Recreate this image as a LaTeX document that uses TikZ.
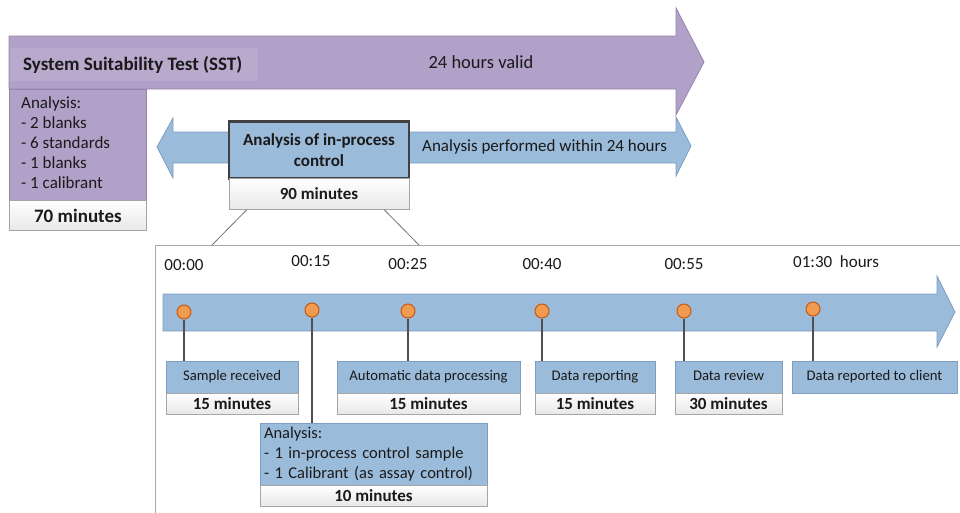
\documentclass[tikz,border=0pt]{standalone}
\usepackage{fontspec}
\setmainfont{Carlito}
\usetikzlibrary{calc}
\definecolor{purp}{HTML}{B1A0C7}
\definecolor{purplab}{HTML}{B8A9CD}
\definecolor{purpline}{HTML}{9585AE}
\definecolor{bluef}{HTML}{9BBBDA}
\definecolor{blueline}{HTML}{7E9EC1}
\definecolor{dotf}{HTML}{F09A52}
\definecolor{dotl}{HTML}{C55A11}
\definecolor{txt}{HTML}{1A1A1A}
\definecolor{wline}{HTML}{A6A6A6}
\definecolor{conn}{HTML}{505050}
\definecolor{framec}{HTML}{A8A8A8}
\tikzset{
  bluebox/.style={draw=blueline, fill=bluef, line width=0.8pt, inner sep=0pt, text=txt,
    font=\fontsize{14.7}{18}\selectfont},
  oneline/.style={text height=10.5pt, text depth=3pt},
  whitebox/.style={draw=wline, top color=white, bottom color=black!9, line width=0.8pt,
    inner sep=0pt, text=txt, font=\bfseries\fontsize{17}{20}\selectfont},
  tlabel/.style={text=txt, inner sep=0pt, font=\fontsize{17}{20}\selectfont},
  tdot/.style={circle, draw=dotl, fill=dotf, line width=1pt, minimum size=14pt, inner sep=0pt},
  stem/.style={draw=conn, line width=1.6pt},
  zoomline/.style={draw=black!55, line width=0.8pt}
}
\begin{document}
\begin{tikzpicture}[x=1pt,y=-1pt]
\useasboundingbox (0,0) rectangle (960,512);
\clip (0,0) rectangle (960,512);

% purple validity arrow
\fill[purp, draw=purpline, line width=0.8pt]
  (9,36) -- (676,36) -- (676,8) -- (704,62) -- (676,115) -- (676,89) -- (9,89) -- cycle;
\node[fill=purplab, minimum width=248pt, minimum height=33pt, inner sep=0pt, anchor=north west]
  (sstbg) at (10,48) {};
\node[text=txt, anchor=west, inner sep=0pt, font=\bfseries\fontsize{19}{22}\selectfont]
  (sst) at (23,65) {System Suitability Test (SST)};
\node[text=txt, inner sep=0pt, font=\fontsize{18.5}{22}\selectfont] (valid) at (481,62) {24 hours valid};

% SST column
\node[draw=purpline, fill=purp, line width=0.8pt, minimum width=137pt, minimum height=111pt,
  inner sep=0pt, anchor=north west] (sstcol) at (9,89) {};
\node[text=txt, anchor=north west, inner sep=0pt, align=left, font=\fontsize{17}{20}\selectfont]
  (sstlist) at (21,96) {Analysis:\\- 2 blanks\\- 6 standards\\- 1 blanks\\- 1 calibrant};
\node[whitebox, minimum width=137pt, minimum height=30pt, anchor=north west,
  font=\bfseries\fontsize{19}{22}\selectfont] (m70) at (9,200) {70 minutes};

% blue double arrow
\fill[bluef, draw=blueline, line width=0.8pt]
  (157,147) -- (173,118) -- (173,132) -- (676,132) -- (676,117) -- (691,146)
  -- (676,176) -- (676,163) -- (173,163) -- (173,178) -- cycle;
\node[text=txt, inner sep=0pt, anchor=west, font=\fontsize{17}{20}\selectfont]
  (within) at (422,147) {Analysis performed within 24 hours};

% in-process control box
\node[draw=black!75, fill=bluef, line width=2.6pt, minimum width=180pt, minimum height=57pt,
  inner sep=0pt, align=center, text=txt, font=\bfseries\fontsize{17}{21}\selectfont]
  (ipc) at (319,150) {Analysis of in-process\\control};
\node[whitebox, minimum width=180pt, minimum height=31pt] (m90) at (319,194) {90 minutes};

% zoom frame
\draw[framec, line width=0.8pt] (155,245) rectangle (980,530);
\coordinate (fl) at (212,245);
\coordinate (fr) at (419,245);
\draw[zoomline] ($(m90.south west)+(18,0)$) -- (fl);
\draw[zoomline] ($(m90.south east)+(-25,0)$) -- (fr);

% time labels
\node[tlabel] (t0) at (184,265) {00:00};
\node[tlabel] (t1) at (311,261) {00:15};
\node[tlabel] (t2) at (408,264) {00:25};
\node[tlabel] (t3) at (542,264) {00:40};
\node[tlabel] (t4) at (684,264) {00:55};
\node[tlabel, anchor=west] (t5) at (793,262) {01:30\ \ hours};

% timeline arrow
\fill[bluef, draw=blueline, line width=0.8pt]
  (163,294) -- (937,294) -- (937,276) -- (955,312) -- (937,347) -- (937,331) -- (163,331) -- cycle;

% dots
\node[tdot] (d0) at (184,312) {};
\node[tdot] (d1) at (312,310) {};
\node[tdot] (d2) at (408,311) {};
\node[tdot] (d3) at (542,311) {};
\node[tdot] (d4) at (684,311) {};
\node[tdot] (d5) at (813,309) {};

% step boxes
\node[bluebox, oneline, minimum width=132pt, minimum height=32pt] (b0) at (232,377) {Sample received};
\node[whitebox, minimum width=132pt, minimum height=21pt] (w0) at (232,403.5) {15 minutes};
\node[bluebox, oneline, minimum width=183pt, minimum height=32pt] (b2) at (428.5,377) {Automatic data processing};
\node[whitebox, minimum width=183pt, minimum height=21pt] (w2) at (428.5,403.5) {15 minutes};
\node[bluebox, oneline, minimum width=120pt, minimum height=32pt] (b3) at (595,377) {Data reporting};
\node[whitebox, minimum width=120pt, minimum height=21pt] (w3) at (595,403.5) {15 minutes};
\node[bluebox, oneline, minimum width=107pt, minimum height=32pt] (b4) at (728.5,377) {Data review};
\node[whitebox, minimum width=107pt, minimum height=21pt] (w4) at (728.5,403.5) {30 minutes};
\node[bluebox, oneline, minimum width=165pt, minimum height=32pt] (b5) at (874.5,377) {Data reported to client};
\node[bluebox, minimum width=227pt, minimum height=62pt, text width=219pt, inner xsep=4pt,
  align=left, font=\fontsize{16.5}{20}\selectfont] (b1) at (373.5,454)
  {Analysis:\\- 1 in-process control sample\\- 1 Calibrant (as assay control)};
\node[whitebox, minimum width=227pt, minimum height=21pt] (w1) at (373.5,495.5) {10 minutes};

% stems
\draw[stem] (d0.south) -- (d0.south |- b0.north);
\draw[stem] (d1.south) -- (d1.south |- b1.north);
\draw[stem] (d2.south) -- (d2.south |- b2.north);
\draw[stem] (d3.south) -- (d3.south |- b3.north);
\draw[stem] (d4.south) -- (d4.south |- b4.north);
\draw[stem] (d5.south) -- (d5.south |- b5.north);
\end{tikzpicture}
\end{document}
